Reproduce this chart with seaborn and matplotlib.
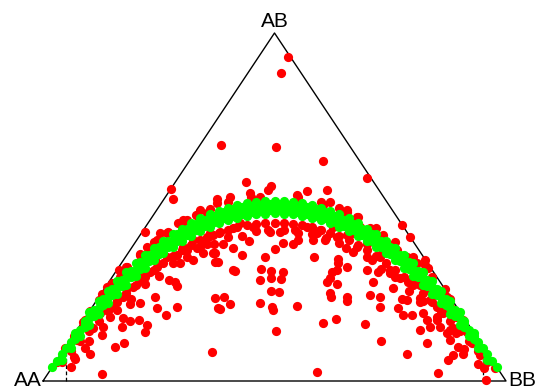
# Ternary (de Finetti) plot of genotype frequencies with the HWE band
import pandas as pd
import seaborn as sns
import matplotlib.pyplot as plt

sns.set_style("white")
plt.rcParams['font.family'] = ['Liberation Sans', 'DejaVu Sans']

# vertex labels
vertex_labels = ['AA', 'AB', 'BB']
maf_bound = 0.05

# red markers: SNPs, given as B-allele frequency and heterozygote fraction
red_p = [0.530, 0.513, 0.385, 0.503, 0.605, 0.699, 0.439, 0.492, 0.276,
         0.280, 0.375, 0.447, 0.469, 0.487, 0.548, 0.570, 0.613, 0.620, 0.656,
         0.678, 0.706, 0.735, 0.404, 0.339, 0.303, 0.253, 0.375, 0.605, 0.656,
         0.775, 0.793, 0.825, 0.825, 0.832, 0.868, 0.872,
         0.221, 0.164, 0.127, 0.066, 0.048, 0.060, 0.127, 0.030, 0.066, 0.102,
         0.091, 0.156, 0.176, 0.073, 0.127, 0.109, 0.087, 0.170, 0.220, 0.224,
         0.188, 0.208, 0.173, 0.145, 0.123, 0.138, 0.152, 0.159, 0.188, 0.209,
         0.173, 0.242, 0.246, 0.266, 0.289, 0.364, 0.371, 0.379, 0.273, 0.285,
         0.289, 0.209, 0.195, 0.181, 0.217, 0.231, 0.246, 0.242, 0.267, 0.289,
         0.296, 0.325, 0.332, 0.310, 0.346, 0.371, 0.371, 0.368, 0.354, 0.325,
         0.303, 0.292, 0.310, 0.332, 0.354, 0.267, 0.246, 0.224, 0.209, 0.181,
         0.166, 0.138, 0.102, 0.087,
         0.591, 0.503, 0.604, 0.632, 0.391, 0.382, 0.404, 0.469, 0.494, 0.496,
         0.549, 0.492, 0.510, 0.620, 0.621, 0.657, 0.657, 0.415, 0.470, 0.492,
         0.492, 0.514, 0.518, 0.613, 0.620, 0.624, 0.636, 0.656, 0.638, 0.638,
         0.379, 0.370, 0.429, 0.479, 0.586, 0.411, 0.446, 0.501, 0.389, 0.519,
         0.539, 0.551, 0.584, 0.611, 0.654, 0.354,
         0.425, 0.454, 0.487, 0.512, 0.544, 0.570, 0.598, 0.627, 0.656, 0.411,
         0.382, 0.361,
         0.303, 0.368, 0.591, 0.634, 0.678, 0.728, 0.749, 0.699, 0.634, 0.411,
         0.469,
         0.952, 0.957, 0.976, 0.854, 0.786, 0.729, 0.695, 0.829, 0.875, 0.886,
         0.908, 0.897, 0.879, 0.872, 0.857, 0.850, 0.886, 0.915, 0.926, 0.836,
         0.814, 0.829, 0.821, 0.814, 0.836, 0.850, 0.865, 0.796, 0.778, 0.767,
         0.786, 0.775, 0.814, 0.728, 0.706, 0.728, 0.757, 0.713, 0.724, 0.749,
         0.771, 0.789, 0.807, 0.814, 0.829, 0.843, 0.710, 0.728, 0.699, 0.670,
         0.685, 0.649, 0.678, 0.713, 0.735, 0.764, 0.786, 0.807, 0.821, 0.836,
         0.857, 0.879, 0.893, 0.908, 0.893, 0.958, 0.944]
red_het = [0.930, 0.886, 0.677, 0.672, 0.633, 0.583, 0.571, 0.560, 0.551,
           0.523, 0.524, 0.539, 0.530, 0.549, 0.534, 0.547, 0.549, 0.515, 0.486,
           0.472, 0.439, 0.420, 0.530, 0.491, 0.463, 0.424, 0.511, 0.506, 0.491,
           0.448, 0.413, 0.348, 0.333, 0.324, 0.263, 0.242,
           0.427, 0.319, 0.250, 0.128, 0.094, 0.041, 0.020, 0.056, 0.070, 0.079,
           0.094, 0.099, 0.108, 0.118, 0.132, 0.151, 0.156, 0.156, 0.142, 0.161,
           0.173, 0.175, 0.180, 0.185, 0.194, 0.214, 0.214, 0.233, 0.221, 0.223,
           0.242, 0.242, 0.209, 0.190, 0.214, 0.084, 0.238, 0.209, 0.290, 0.285,
           0.273, 0.290, 0.271, 0.266, 0.305, 0.314, 0.328, 0.348, 0.357, 0.362,
           0.338, 0.348, 0.381, 0.376, 0.367, 0.367, 0.343, 0.420, 0.415, 0.405,
           0.386, 0.453, 0.463, 0.477, 0.482, 0.424, 0.405, 0.386, 0.362, 0.328,
           0.300, 0.270, 0.200, 0.170,
           0.025, 0.145, 0.168, 0.177, 0.242, 0.206, 0.220, 0.223, 0.212, 0.204,
           0.216, 0.259, 0.255, 0.252, 0.242, 0.242, 0.230, 0.316, 0.321, 0.317,
           0.295, 0.293, 0.312, 0.285, 0.295, 0.314, 0.319, 0.328, 0.338, 0.352,
           0.343, 0.369, 0.362, 0.355, 0.357, 0.381, 0.403, 0.378, 0.395, 0.397,
           0.395, 0.405, 0.405, 0.410, 0.381, 0.395,
           0.453, 0.443, 0.434, 0.429, 0.434, 0.443, 0.434, 0.443, 0.420, 0.439,
           0.429, 0.424,
           0.376, 0.367, 0.424, 0.415, 0.386, 0.357, 0.309, 0.319, 0.280, 0.319,
           0.290,
           0.036, 0.003, 0.038, 0.022, 0.079, 0.116, 0.164, 0.108, 0.060, 0.075,
           0.079, 0.099, 0.118, 0.137, 0.156, 0.175, 0.151, 0.142, 0.108, 0.156,
           0.147, 0.175, 0.194, 0.228, 0.233, 0.214, 0.194, 0.190, 0.190, 0.209,
           0.233, 0.235, 0.238, 0.242, 0.247, 0.212, 0.266, 0.285, 0.314, 0.319,
           0.295, 0.285, 0.295, 0.276, 0.266, 0.247, 0.348, 0.362, 0.395, 0.424,
           0.443, 0.482, 0.467, 0.434, 0.405, 0.376, 0.357, 0.338, 0.314, 0.290,
           0.257, 0.214, 0.185, 0.175, 0.137, 0.060, 0.075]

# red markers crowding the edges of the HWE band
fringe_p = [0.04, 0.06, 0.08, 0.10, 0.12, 0.14, 0.16, 0.18, 0.20, 0.22, 0.24,
            0.26, 0.28, 0.30, 0.32, 0.34, 0.36, 0.38, 0.40, 0.42, 0.44, 0.46,
            0.48, 0.50, 0.52, 0.54, 0.56, 0.58, 0.60, 0.62, 0.64, 0.66, 0.68,
            0.70, 0.72, 0.74, 0.76, 0.78, 0.80, 0.82, 0.84, 0.86, 0.88, 0.90,
            0.92, 0.94, 0.96,
            0.09, 0.12, 0.15, 0.18, 0.21, 0.24, 0.27, 0.30, 0.33, 0.36, 0.40,
            0.45, 0.55, 0.60, 0.64, 0.68, 0.72, 0.76, 0.80, 0.84, 0.88,
            0.07, 0.10, 0.13, 0.16, 0.19, 0.22, 0.25, 0.28, 0.31, 0.34, 0.37,
            0.40, 0.43, 0.46, 0.49, 0.52, 0.55, 0.58, 0.61, 0.64, 0.67, 0.70,
            0.73, 0.76, 0.79, 0.82, 0.85, 0.88, 0.91, 0.94]
fringe_het = [0.055, 0.085, 0.115, 0.145, 0.172, 0.200, 0.226, 0.252, 0.276,
              0.298, 0.320, 0.340, 0.358, 0.375, 0.390, 0.404, 0.416, 0.426,
              0.435, 0.442, 0.448, 0.452, 0.454, 0.455, 0.454, 0.452, 0.448,
              0.442, 0.435, 0.426, 0.416, 0.404, 0.390, 0.375, 0.358, 0.340,
              0.320, 0.298, 0.276, 0.252, 0.226, 0.200, 0.172, 0.145, 0.115,
              0.085, 0.055,
              0.176, 0.232, 0.283, 0.328, 0.365, 0.398, 0.428, 0.455, 0.476,
              0.494, 0.514, 0.528, 0.530, 0.515, 0.497, 0.472, 0.440, 0.400,
              0.356, 0.300, 0.236,
              0.062, 0.115, 0.155, 0.204, 0.236, 0.278, 0.303, 0.338, 0.356,
              0.384, 0.395, 0.415, 0.418, 0.432, 0.428, 0.434, 0.424, 0.421,
              0.405, 0.396, 0.371, 0.355, 0.322, 0.300, 0.260, 0.230, 0.183,
              0.146, 0.093, 0.048]

# green markers: SNPs consistent with Hardy-Weinberg equilibrium
green_p = [0.02, 0.03, 0.04, 0.05, 0.06, 0.07, 0.08, 0.09, 0.10, 0.11, 0.12,
           0.13, 0.14, 0.15, 0.16, 0.17, 0.18, 0.19, 0.20, 0.21, 0.22, 0.23,
           0.24, 0.25, 0.26, 0.27, 0.28, 0.29, 0.30, 0.31, 0.32, 0.33, 0.34,
           0.35, 0.36, 0.37, 0.38, 0.39, 0.40, 0.41, 0.42, 0.43, 0.44, 0.45,
           0.46, 0.47, 0.48, 0.49, 0.50, 0.51, 0.52, 0.53, 0.54, 0.55, 0.56,
           0.57, 0.58, 0.59, 0.60, 0.61, 0.62, 0.63, 0.64, 0.65, 0.66, 0.67,
           0.68, 0.69, 0.70, 0.71, 0.72, 0.73, 0.74, 0.75, 0.76, 0.77, 0.78,
           0.79, 0.80, 0.81, 0.82, 0.83, 0.84, 0.85, 0.86, 0.87, 0.88, 0.89,
           0.90, 0.91, 0.92, 0.93, 0.94, 0.95, 0.96, 0.97, 0.98,
           0.10, 0.12, 0.14, 0.16, 0.18, 0.20, 0.22, 0.24, 0.26, 0.28, 0.30,
           0.32, 0.34, 0.36, 0.38, 0.40, 0.42, 0.44, 0.46, 0.48, 0.50, 0.52,
           0.54, 0.56, 0.58, 0.60, 0.62, 0.64, 0.66, 0.68, 0.70, 0.72, 0.74,
           0.76, 0.78, 0.80, 0.82, 0.84, 0.86, 0.88, 0.90,
           0.04, 0.06, 0.08, 0.10, 0.12, 0.14, 0.16, 0.18, 0.20, 0.22, 0.24,
           0.26, 0.28, 0.30, 0.32, 0.34, 0.36, 0.38, 0.40, 0.42, 0.44, 0.46,
           0.48, 0.50, 0.52, 0.54, 0.56, 0.58, 0.60, 0.62, 0.64, 0.66, 0.68,
           0.70, 0.72, 0.74, 0.76, 0.78, 0.80, 0.82, 0.84, 0.86, 0.88, 0.90,
           0.92, 0.94, 0.96,
           0.07, 0.09, 0.11, 0.13, 0.15, 0.17, 0.19, 0.21, 0.23, 0.25, 0.27,
           0.29, 0.31, 0.33, 0.35, 0.37, 0.39, 0.41, 0.43, 0.45, 0.47, 0.49,
           0.51, 0.53, 0.55, 0.57, 0.59, 0.61, 0.63, 0.65, 0.67, 0.69, 0.71,
           0.73, 0.75, 0.77, 0.79, 0.81, 0.83, 0.85, 0.87, 0.89, 0.91, 0.93,
           0.07, 0.09, 0.11, 0.13, 0.15, 0.17, 0.19, 0.21, 0.23, 0.25, 0.27,
           0.29, 0.31, 0.33, 0.35, 0.37, 0.39, 0.41, 0.43, 0.45, 0.47, 0.49,
           0.51, 0.53, 0.55, 0.57, 0.59, 0.61, 0.63, 0.65, 0.67, 0.69, 0.71,
           0.73, 0.75, 0.77, 0.79, 0.81, 0.83, 0.85, 0.87, 0.89, 0.91, 0.93]
green_het = [0.039, 0.058, 0.077, 0.095, 0.113, 0.130, 0.147, 0.164, 0.180,
             0.196, 0.211, 0.226, 0.241, 0.255, 0.269, 0.282, 0.295, 0.308,
             0.320, 0.332, 0.343, 0.354, 0.365, 0.375, 0.385, 0.394, 0.403,
             0.412, 0.420, 0.428, 0.435, 0.442, 0.449, 0.455, 0.461, 0.466,
             0.471, 0.476, 0.480, 0.484, 0.487, 0.490, 0.493, 0.495, 0.497,
             0.498, 0.499, 0.500, 0.500, 0.500, 0.499, 0.498, 0.497, 0.495,
             0.493, 0.490, 0.487, 0.484, 0.480, 0.476, 0.471, 0.466, 0.461,
             0.455, 0.449, 0.442, 0.435, 0.428, 0.420, 0.412, 0.403, 0.394,
             0.385, 0.375, 0.365, 0.354, 0.343, 0.332, 0.320, 0.308, 0.295,
             0.282, 0.269, 0.255, 0.241, 0.226, 0.211, 0.196, 0.180, 0.164,
             0.147, 0.130, 0.113, 0.095, 0.077, 0.058, 0.039,
             0.198, 0.229, 0.259, 0.287, 0.313, 0.338, 0.361, 0.383, 0.403,
             0.421, 0.438, 0.453, 0.467, 0.479, 0.489, 0.498, 0.505, 0.511,
             0.515, 0.517, 0.518, 0.517, 0.515, 0.511, 0.505, 0.498, 0.489,
             0.479, 0.467, 0.453, 0.438, 0.421, 0.403, 0.383, 0.361, 0.338,
             0.313, 0.287, 0.259, 0.229, 0.198,
             0.059, 0.095, 0.129, 0.162, 0.193, 0.223, 0.251, 0.277, 0.302,
             0.325, 0.347, 0.367, 0.385, 0.402, 0.417, 0.431, 0.443, 0.453,
             0.462, 0.469, 0.475, 0.479, 0.481, 0.482, 0.481, 0.479, 0.475,
             0.469, 0.462, 0.453, 0.443, 0.431, 0.417, 0.402, 0.385, 0.367,
             0.347, 0.325, 0.302, 0.277, 0.251, 0.223, 0.193, 0.162, 0.129,
             0.095, 0.059,
             0.139, 0.173, 0.205, 0.235, 0.264, 0.291, 0.317, 0.341, 0.363,
             0.384, 0.403, 0.421, 0.437, 0.451, 0.464, 0.475, 0.485, 0.493,
             0.499, 0.504, 0.507, 0.509, 0.509, 0.507, 0.504, 0.499, 0.493,
             0.485, 0.475, 0.464, 0.451, 0.437, 0.421, 0.403, 0.384, 0.363,
             0.341, 0.317, 0.291, 0.264, 0.235, 0.205, 0.173, 0.139,
             0.121, 0.155, 0.187, 0.217, 0.246, 0.273, 0.299, 0.323, 0.345,
             0.366, 0.385, 0.403, 0.419, 0.433, 0.446, 0.457, 0.467, 0.475,
             0.481, 0.486, 0.489, 0.491, 0.491, 0.489, 0.486, 0.481, 0.475,
             0.467, 0.457, 0.446, 0.433, 0.419, 0.403, 0.385, 0.366, 0.345,
             0.323, 0.299, 0.273, 0.246, 0.217, 0.187, 0.155, 0.121]

red = pd.DataFrame({'p': red_p + fringe_p, 'het': red_het + fringe_het})
green = pd.DataFrame({'p': green_p, 'het': green_het})

fig = plt.figure(figsize=(5.37, 3.90), dpi=100)
ax = fig.add_axes([43 / 537, 9 / 390, 463 / 537, 348 / 390])
ax.set_xlim(0, 1)
ax.set_ylim(0, 1)
ax.axis('off')

# triangle
ax.plot([0, 1, 0.5, 0], [0, 0, 1, 0], color='black', lw=1.0, clip_on=False)

# MAF bounds
ax.plot([maf_bound, maf_bound], [0, 2 * maf_bound], color='black', lw=0.9,
        ls=(0, (3, 2)), clip_on=False)
ax.plot([1 - maf_bound, 1 - maf_bound], [0, 2 * maf_bound], color='black',
        lw=0.9, ls=(0, (3, 2)), clip_on=False)

sns.scatterplot(data=red, x='p', y='het', color='#ff0000', s=44,
                linewidth=0, ax=ax, clip_on=False, zorder=3)
sns.scatterplot(data=green, x='p', y='het', color='#00ff00', s=44,
                linewidth=0, ax=ax, clip_on=False, zorder=4)

ax.text(-0.003, 0, vertex_labels[0], ha='right', va='center', fontsize=15,
        color='black')
ax.text(0.5, 1.018, vertex_labels[1], ha='center', va='baseline', fontsize=15,
        color='black')
ax.text(1.004, 0, vertex_labels[2], ha='left', va='center', fontsize=15,
        color='black')

fig.savefig('out.png', dpi=100)
